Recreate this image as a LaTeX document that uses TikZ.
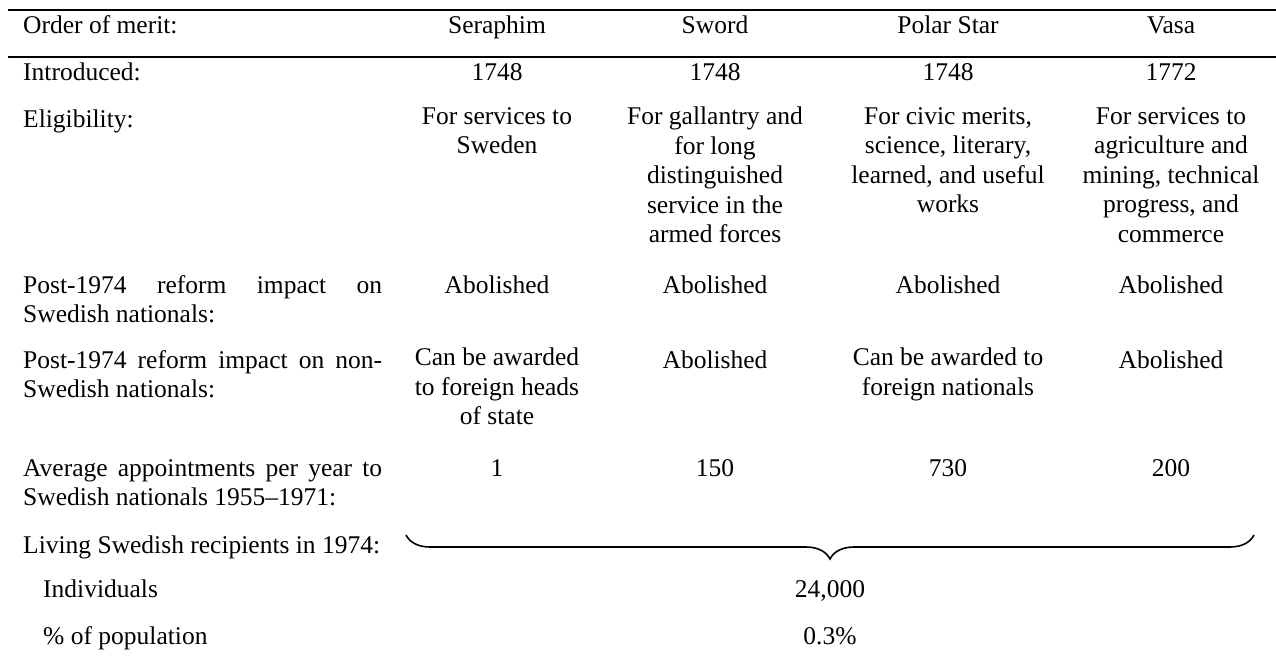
\documentclass[tikz,border=0pt]{standalone}
\usepackage{fontspec}
\setmainfont{Liberation Serif}
\usetikzlibrary{decorations.pathreplacing}
\setlength{\parindent}{0pt}
\hyphenpenalty=10000
\newcommand{\cellstrut}{\rule{0pt}{20pt}}

\begin{document}
\begin{tikzpicture}[x=1pt, y=-1pt,
    every node/.style={inner sep=0pt, font=\fontsize{25.5}{29.5}\selectfont,
        execute at begin node=\cellstrut},
    lbl/.style={anchor=north west, text width=359pt, align=justify},
    sublbl/.style={anchor=north west},
    val/.style={anchor=north, align=center},
    hrule/.style={line width=2.5pt}]
    \useasboundingbox (0,0) rectangle (1276,661);

    % rules
    \draw[hrule] (8,10) -- (1276,10);
    \draw[hrule] (8,57) -- (1276,57);

    % header
    \node[lbl] (order) at (23,13) {Order of merit:};
    \node[val] (seraphim) at (497,13) {Seraphim};
    \node[val] (sword) at (715,13) {Sword};
    \node[val] (polar) at (948,13) {Polar Star};
    \node[val] (vasa) at (1171,13) {Vasa};

    % introduced
    \node[lbl] (intro) at (23,60) {Introduced:};
    \node[val] (introS) at (497,60) {1748};
    \node[val] (introW) at (715,60) {1748};
    \node[val] (introP) at (948,60) {1748};
    \node[val] (introV) at (1171,60) {1772};

    % eligibility
    \node[lbl] (elig) at (23,107) {Eligibility:};
    \node[val] (eligS) at (497,107) {For services to\\Sweden};
    \node[val] (eligW) at (715,107)
        {For gallantry and\\for long\\distinguished\\service in the\\armed forces};
    \node[val] (eligP) at (948,107)
        {For civic merits,\\science, literary,\\learned, and useful\\works};
    \node[val] (eligV) at (1171,107)
        {For services to\\agriculture and\\mining, technical\\progress, and\\commerce};

    % reform, Swedish nationals
    \node[lbl] (swed) at (23,273) {Post-1974 reform impact on Swedish nationals:};
    \node[val] (swedS) at (497,273) {Abolished};
    \node[val] (swedW) at (715,273) {Abolished};
    \node[val] (swedP) at (948,273) {Abolished};
    \node[val] (swedV) at (1171,273) {Abolished};

    % reform, non-Swedish nationals
    \node[lbl] (foreign) at (23,348) {Post-1974 reform impact on non-Swedish nationals:};
    \node[val] (foreignS) at (497,348) {Can be awarded\\to foreign heads\\of state};
    \node[val] (foreignW) at (715,348) {Abolished};
    \node[val] (foreignP) at (948,348) {Can be awarded to\\foreign nationals};
    \node[val] (foreignV) at (1171,348) {Abolished};

    % appointments
    \node[lbl] (appt) at (23,456)
        {Average appointments per year to Swedish nationals 1955--1971:};
    \node[val] (apptS) at (497,456) {1};
    \node[val] (apptW) at (715,456) {150};
    \node[val] (apptP) at (948,456) {730};
    \node[val] (apptV) at (1171,456) {200};

    % living recipients
    \node[lbl] (living) at (23,533) {Living Swedish recipients in 1974:};
    \coordinate (braceL) at (406,535);
    \coordinate (braceR) at (1254,535);
    \draw[line width=1.6pt, decorate,
        decoration={brace, mirror, amplitude=24pt}] (braceL) -- (braceR);

    \node[sublbl] (indiv) at (43,577) {Individuals};
    \node[val] (indivN) at (830,577) {24,000};
    \node[sublbl] (share) at (43,624) {\% of population};
    \node[val] (shareN) at (830,624) {0.3\%};
\end{tikzpicture}
\end{document}
